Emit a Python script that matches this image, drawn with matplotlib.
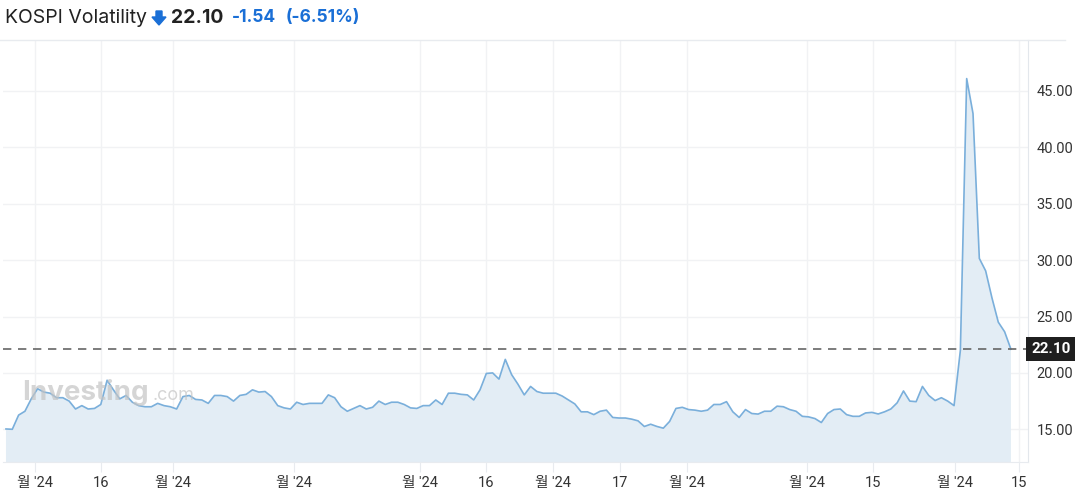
import matplotlib.pyplot as plt
from matplotlib.patches import Polygon
import numpy as np

# VKOSPI daily closes (oldest first)
vals = [15.03, 15.0, 16.26, 16.6, 17.7, 18.6, 18.3, 18.2, 17.8, 17.8,
        17.5, 16.8, 17.1, 16.8, 16.85, 17.2, 19.35, 18.5, 17.7, 18.0,
        17.4, 17.1, 17.0, 17.0, 17.3, 17.1, 17.0, 16.8, 17.9, 18.0,
        17.65, 17.6, 17.3, 18.0, 18.0, 17.9, 17.5, 18.0, 18.1, 18.5,
        18.3, 18.35, 17.9, 17.1, 16.9, 16.8, 17.4, 17.2, 17.3, 17.3,
        17.3, 18.05, 17.8, 17.0, 16.6, 16.85, 17.1, 16.8, 16.95, 17.5,
        17.2, 17.4, 17.4, 17.2, 16.9, 16.85, 17.1, 17.1, 17.6, 17.2,
        18.2, 18.2, 18.1, 18.05, 17.6, 18.5, 19.95, 20.0, 19.45, 21.2,
        19.85, 19.0, 18.05, 18.8, 18.35, 18.2, 18.2, 18.2, 17.95, 17.6,
        17.25, 16.55, 16.55, 16.3, 16.6, 16.7, 16.05, 16.0, 16.0, 15.9,
        15.75, 15.25, 15.45, 15.25, 15.1, 15.7, 16.85, 16.95, 16.75, 16.7,
        16.6, 16.7, 17.2, 17.2, 17.45, 16.55, 16.05, 16.75, 16.4, 16.35,
        16.6, 16.6, 17.05, 17.0, 16.75, 16.6, 16.15, 16.1, 15.95, 15.6,
        16.4, 16.75, 16.8, 16.3, 16.15, 16.15, 16.45, 16.5, 16.36, 16.55,
        16.8, 17.35, 18.4, 17.5, 17.45, 18.8, 18.0, 17.55, 17.8, 17.5,
        17.1, 22.0, 46.1, 43.0, 30.15, 29.05, 26.65, 24.5, 23.65, 22.1]

tick_pos = [4.6, 15.0, 26.4, 45.6, 65.5, 75.9, 86.5, 97.2, 107.7, 126.7, 137.2, 150.1, 160.2]
tick_lab = ["월 '24", "16", "월 '24", "월 '24", "월 '24", "16", "월 '24", "17",
            "월 '24", "월 '24", "15", "월 '24", "15"]
y_ticks = [15, 20, 25, 30, 35, 40, 45]
last = 22.10
change = "-1.54"
pct = "(-6.51%)"
name = "KOSPI Volatility"

W, H = 1079, 490
fig = plt.figure(figsize=(W / 100, H / 100), dpi=100)
fonts = ['Roboto', 'Noto Sans CJK KR', 'DejaVu Sans']

L, R, T, B = 3, 1028, 40, 462
ax = fig.add_axes([L / W, 1 - B / H, (R - L) / W, (B - T) / H])

x = np.arange(len(vals))
ax.fill_between(x, vals, 0, color='#e3edf5', lw=0)
ax.plot(x, vals, color='#7aafdb', lw=1.2)
ax.axhline(last, color='#666666', lw=1.2, ls=(0, (5, 4)), clip_on=False)

ax.set_xlim(-0.47, 161.7)
ax.set_ylim(12.1, 49.52)

ax.set_xticks(tick_pos)
ax.set_xticklabels(tick_lab, fontsize=10.5, color='#333333', family=fonts)
ax.set_yticks(y_ticks)
ax.set_yticklabels(['%.2f' % v for v in y_ticks], fontsize=10.5, color='#333333', family=fonts)
ax.yaxis.tick_right()
ax.tick_params(axis='y', length=0, pad=6)
ax.tick_params(axis='x', length=7, color='#e8ebef', pad=3)
ax.grid(True, color='#f1f2f4', lw=1)
ax.set_axisbelow(True)
for s in ['left', 'top']:
    ax.spines[s].set_visible(False)
ax.spines['right'].set_color('#e3e7ec')
ax.spines['bottom'].set_color('#e8ebef')

# top rule and price tag on the right axis
fig.add_artist(plt.Line2D([0, 1065 / W], [1 - 40 / H] * 2, color='#e8ebef', lw=1))
ax.text(1.003, last, '%.2f' % last, transform=ax.get_yaxis_transform(), va='center', ha='left',
        fontsize=11, fontweight='bold', color='white', family=fonts,
        bbox=dict(boxstyle='square,pad=0.33', fc='#1f1f1f', ec='none'))

# watermark
fig.text(22 / W, 1 - 393 / H, 'Investing', fontsize=20, fontweight='bold', color='#c4c4c4',
         alpha=0.7, va='center', family='Inter')
fig.text(153 / W, 1 - 395 / H, '.com', fontsize=13, color='#c4c4c4', alpha=0.7, va='center', family='Inter')

# header
fig.text(5 / W, 1 - 18 / H, name, fontsize=14, color='#222222', va='center', family='Inter')
arrow = [(156, 11), (162, 11), (162, 17), (166, 17), (159, 25), (152, 17), (156, 17)]
fig.add_artist(Polygon([(px / W, 1 - py / H) for px, py in arrow], closed=True,
                       transform=fig.transFigure, color='#1a6fd6'))
fig.text(171 / W, 1 - 18 / H, '%.2f' % last, fontsize=14, fontweight='bold', color='#222222',
         va='center', family='Inter')
fig.text(232 / W, 1 - 18 / H, change, fontsize=12.5, fontweight='bold', color='#1a6fd6', va='center', family='Inter')
fig.text(286 / W, 1 - 18 / H, pct, fontsize=12.5, fontweight='bold', color='#1a6fd6', va='center', family='Inter')

fig.savefig('out.png', dpi=100)
